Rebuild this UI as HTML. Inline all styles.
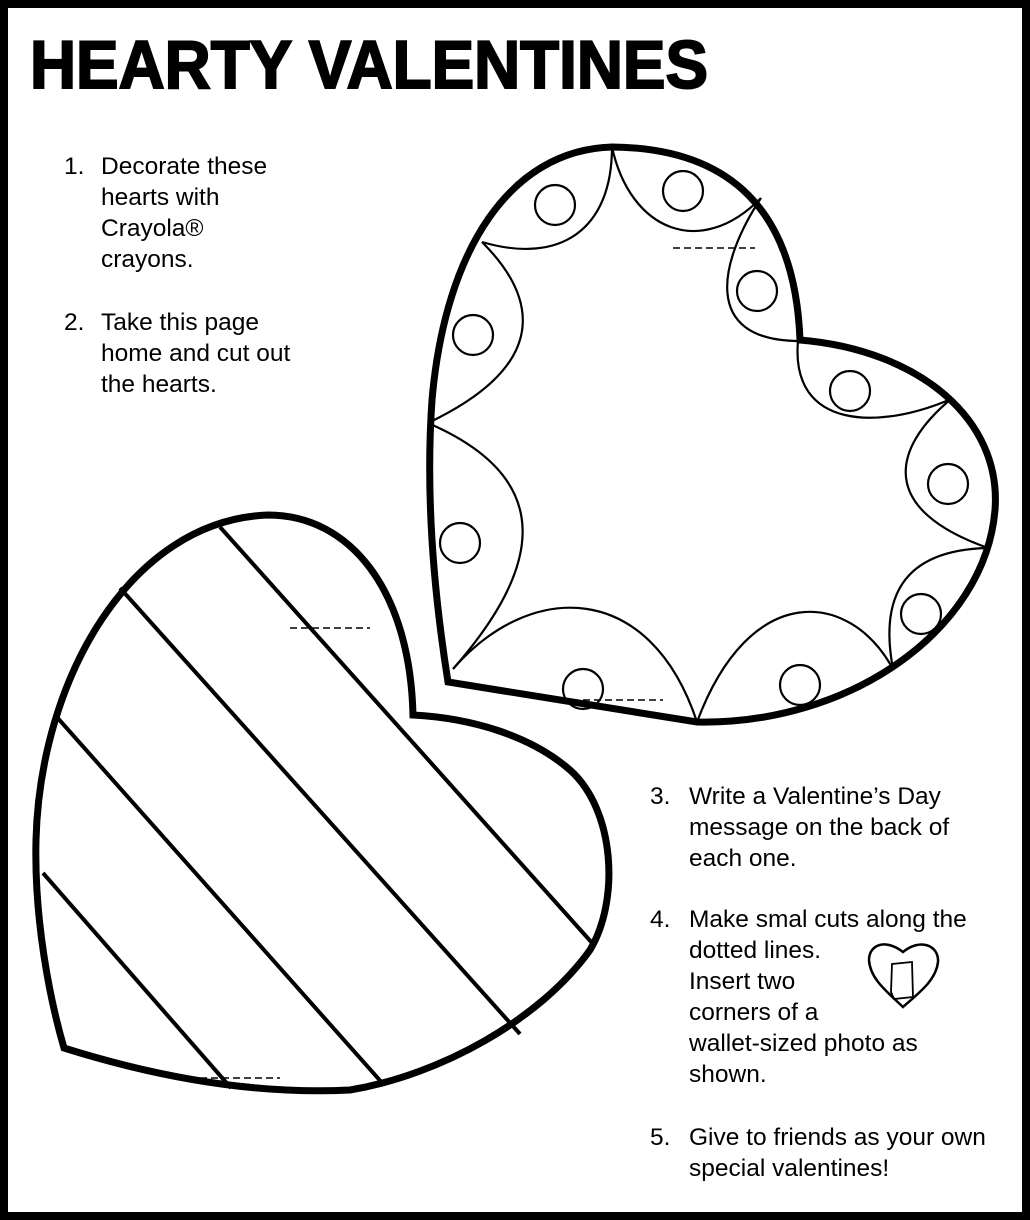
<!DOCTYPE html>
<html><head><style>
html,body{margin:0;padding:0;background:#fff}
svg{display:block}
text{font-family:"Liberation Sans",sans-serif;fill:#000}
.b{font-size:24.5px}
</style></head><body>
<svg width="1030" height="1220" viewBox="0 0 1030 1220">
<rect x="4" y="4" width="1022" height="1212" fill="#fff" stroke="#000" stroke-width="8"/>
<text x="30" y="88" font-size="68" font-weight="bold" stroke="#000" stroke-width="2" textLength="678" lengthAdjust="spacingAndGlyphs">HEARTY VALENTINES</text>

<g>
<text x="64" y="174" class="b">1.</text>
<text x="101" y="174" class="b">Decorate these</text>
<text x="101" y="205" class="b">hearts with</text>
<text x="101" y="236" class="b">Crayola®</text>
<text x="101" y="267" class="b">crayons.</text>
<text x="64" y="330" class="b">2.</text>
<text x="101" y="330" class="b">Take this page</text>
<text x="101" y="361" class="b">home and cut out</text>
<text x="101" y="392" class="b">the hearts.</text>

<text x="650" y="804" class="b">3.</text>
<text x="689" y="804" class="b">Write a Valentine’s Day</text>
<text x="689" y="835" class="b">message on the back of</text>
<text x="689" y="866" class="b">each one.</text>
<text x="650" y="927" class="b">4.</text>
<text x="689" y="927" class="b">Make smal cuts along the</text>
<text x="689" y="958" class="b">dotted lines.</text>
<text x="689" y="989" class="b">Insert two</text>
<text x="689" y="1020" class="b">corners of a</text>
<text x="689" y="1051" class="b">wallet-sized photo as</text>
<text x="689" y="1082" class="b">shown.</text>
<text x="650" y="1145" class="b">5.</text>
<text x="689" y="1145" class="b">Give to friends as your own</text>
<text x="689" y="1176" class="b">special valentines!</text>
</g>

<g fill="none" stroke="#000">
<path d="M 800,340 C 795,210 730,148 612,147 C 510,150 445,250 432,400 C 425,500 435,600 448,682 L 697,722 C 850,725 985,630 995,510 C 1002,420 920,350 800,340 Z" stroke-width="7"/>
<g stroke-width="2.2">
<path d="M482,242 C560,265 612,230 612,147"/>
<path d="M612,147 C630,230 700,260 761,198"/>
<path d="M761,198 C720,260 700,340 798,341"/>
<path d="M798,341 C790,430 880,430 951,399"/>
<path d="M951,399 C890,450 880,510 988,548"/>
<path d="M988,548 C900,550 880,600 893,669"/>
<path d="M893,669 C850,590 750,580 697,722"/>
<path d="M697,722 C650,580 530,580 453,669"/>
<path d="M453,669 C540,570 560,480 428,423"/>
<path d="M428,423 C560,360 530,290 482,242"/>
<circle cx="555" cy="205" r="20"/><circle cx="683" cy="191" r="20"/>
<circle cx="757" cy="291" r="20"/><circle cx="473" cy="335" r="20"/>
<circle cx="850" cy="391" r="20"/><circle cx="948" cy="484" r="20"/>
<circle cx="460" cy="543" r="20"/><circle cx="921" cy="614" r="20"/>
<circle cx="583" cy="689" r="20"/><circle cx="800" cy="685" r="20"/>
</g>
<g stroke-width="1.5" stroke-dasharray="7,4">
<line x1="673" y1="248" x2="755" y2="248"/>
<line x1="583" y1="700" x2="663" y2="700"/>
<line x1="290" y1="628" x2="370" y2="628"/>
<line x1="200" y1="1078" x2="280" y2="1078"/>
</g>

<path d="M413,715 C410,590 350,515 268,515 C130,520 40,680 36,840 C34,920 50,1000 64,1048 C150,1075 250,1095 350,1090 C440,1075 540,1020 590,950 C620,900 615,810 570,770 C530,735 470,718 413,715 Z" stroke-width="7"/>
<g stroke-width="4">
<line x1="220" y1="527" x2="593" y2="944"/>
<line x1="120" y1="588" x2="520" y2="1034"/>
<line x1="55" y1="715" x2="384" y2="1085"/>
<line x1="43" y1="873" x2="231" y2="1088"/>
</g>

<path d="M903,1007 C885,990 870,978 869,960 C869,945 885,938 903,952 C920,938 939,945 938,962 C936,980 920,992 903,1007 Z" stroke-width="2.5"/>
<path d="M892,964 L912,962 L913,997 L894,999 L891,992 Z" stroke-width="1.8"/>
</g>
</svg>
</body></html>
